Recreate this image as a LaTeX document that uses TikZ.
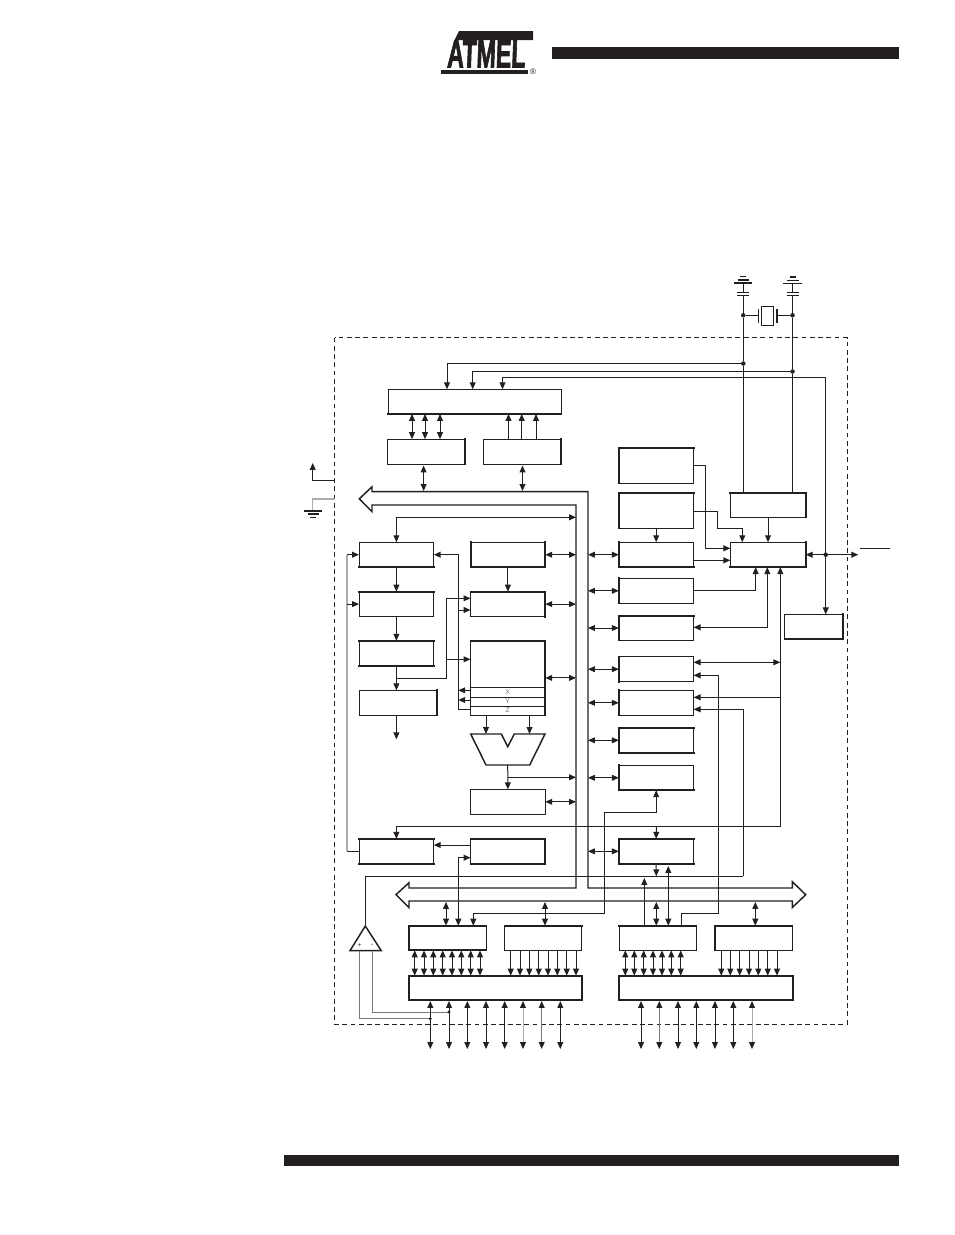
\documentclass[tikz,border=0pt]{standalone}
\usepackage{fontspec}
\setmainfont{Liberation Sans}
\newfontfamily\logofont[FakeBold=2.5]{Liberation Sans Bold}
\usetikzlibrary{arrows.meta}
\definecolor{ink}{HTML}{231F20}
\definecolor{pale}{HTML}{ABABAB}
\definecolor{midgray}{HTML}{777777}
\tikzset{
  >={Triangle[length=5.2pt,width=4.4pt,color=ink]},
  box/.style={draw,inner sep=0pt,outer sep=0pt},
  cell/.style={box,minimum width=56.1pt,minimum height=18.7pt},
  porth/.style={box,minimum width=58pt,minimum height=18.5pt},
  heavy/.style={line width=1.5pt,line cap=rect},
  dot/.style={circle,fill=ink,inner sep=0pt,minimum size=3.4pt},
  reglbl/.style={font=\fontsize{5.2pt}{6pt}\selectfont,inner sep=0pt,text=midgray},
  pin/.style={<->,shorten <=.8pt},
}
\begin{document}
\begin{tikzpicture}[x=.75pt,y=-.75pt,line width=.75pt,color=ink]
\useasboundingbox (0,0) rectangle (954,1235);
% page furniture
\fill (552,47) rectangle (899,59);
\fill (284,1155) rectangle (899,1166);
\fill (459,31) -- (533,31) -- (533,40) -- (454.5,40) -- cycle;
\node[font=\logofont\fontsize{29pt}{29pt}\selectfont,xscale=.6,xslant=.06,inner sep=0pt] (logo) at (486.5,54) {ATMEL};
\fill (441,69.5) rectangle (528,74);
\node[font=\fontsize{6pt}{6pt}\selectfont,inner sep=0pt] (regmark) at (533,71.5) {®};
% chip outline
\draw[dashed,dash pattern=on 3.6pt off 2.6pt] (334.5,337.5) rectangle (847,1024);
% port C
\node[box,minimum width=129.8pt,minimum height=18.5pt] (drvC) at (474.7,401.6) {};
\node[box,minimum width=58pt,minimum height=19pt] (regC) at (426.2,451.8) {};
\node[box,minimum width=58pt,minimum height=19pt] (ddrC) at (522.2,451.8) {};
% left column
\node[cell] (pc) at (396.4,554.7) {};
\node[cell] (flash) at (396.4,604.1) {};
\node[cell] (instr) at (396.4,653.3) {};
\node[box,minimum width=58.3pt,minimum height=18.7pt] (decoder) at (398.2,702.8) {};
\node[cell] (prog) at (396.4,851.3) {};
% register column
\node[cell] (sp) at (507.9,554.7) {};
\node[cell] (sram) at (507.9,604.1) {};
\node[box,minimum width=56.1pt,minimum height=55.8pt] (gpr) at (507.9,677.9) {};
\node[cell] (status) at (507.9,801.8) {};
\node[cell] (spi) at (507.9,851.3) {};
% peripheral column
\node[box,minimum width=56.3pt,minimum height=26.7pt] (wosc) at (656.2,465.5) {};
\node[box,minimum width=56.3pt,minimum height=26.7pt] (wdog) at (656.2,510.5) {};
\node[cell] (mcu) at (656.2,554.7) {};
\node[cell] (tcint) at (656.2,590.8) {};
\node[cell] (tmrA) at (656.2,628) {};
\node[cell] (tmrB) at (656.2,669.2) {};
\node[cell] (tmrC) at (656.2,702.8) {};
\node[cell] (uart) at (656.2,740.3) {};
\node[cell] (eeprom) at (656.2,777.8) {};
\node[cell] (xram) at (656.2,851.3) {};
\node[box,minimum width=56.5pt,minimum height=18.5pt] (timing) at (768,505) {};
\node[box,minimum width=56.5pt,minimum height=18.7pt] (ctrl) at (768,554.7) {};
\node[box,minimum width=44pt,minimum height=18.5pt] (intu) at (814,626.7) {};
% ports at the bottom
\node[porth] (regA) at (447.5,938) {};
\node[porth] (ddrA) at (543.3,938) {};
\node[box,minimum width=129.8pt,minimum height=18.5pt] (drvA) at (495.5,988) {};
\node[porth] (regB) at (657.7,938) {};
\node[porth] (ddrB) at (753.7,938) {};
\node[box,minimum width=130.5pt,minimum height=18.5pt] (drvB) at (705.7,988) {};
% heavier sides
\foreach \n in {drvC,pc,instr,sp,prog,spi,mcu,uart,eeprom,xram,ctrl,intu,regA,drvA,drvB}
  \draw[heavy] (\n.south west) -- (\n.south east);
\foreach \n in {flash,sram,instr,gpr,prog,spi,wosc,wdog,tmrA,uart,xram,timing,regA,ddrA,regB,ddrB,drvA,drvB}
  \draw[heavy] (\n.north west) -- (\n.north east);
\foreach \n in {regC,ddrC,sp,sram,gpr,decoder,spi,timing,ctrl,intu,drvA,drvB}
  \draw[heavy] (\n.north east) -- (\n.south east);
\foreach \n in {sp,wosc,wdog,mcu,tcint,tmrA,tmrB,tmrC,uart,eeprom,xram,regA,ddrB,drvA,drvB}
  \draw[heavy] (\n.north west) -- (\n.south west);
% index registers
\coordinate (xline) at (470.5,687.3);
\coordinate (yline) at (470.5,697.3);
\coordinate (zline) at (470.5,706.3);
\draw (xline) -- (gpr.east |- xline);
\draw (yline) -- (gpr.east |- yline);
\draw (zline) -- (gpr.east |- zline);
\node[reglbl] (xreg) at (507.7,692) {X};
\node[reglbl] (yreg) at (507.7,701.4) {Y};
\node[reglbl] (zreg) at (507.7,710.6) {Z};
% data bus
\coordinate (busl) at (576,505);
\coordinate (busr) at (588,491.7);
\draw[line width=1.1pt,line join=miter] (359.3,498.8) -- (372,486.8) -- (372,491.7) -- (busr) -- (588,888)
  -- (792.3,888) -- (792.3,881.7) -- (805.7,894.7) -- (792.3,907.5) -- (792.3,901) -- (409,901)
  -- (409,907.7) -- (396,894.7) -- (409,882.7) -- (409,888) -- (576,888) -- (busl) -- (372,505)
  -- (372,511.7) -- cycle;
% ALU
\coordinate (aluL) at (486,734);
\coordinate (aluR) at (529.5,734);
\coordinate (aluB) at (507.7,765);
\draw[line width=1.1pt] (470.7,734) -- (501.3,734) -- (507.7,746.7) -- (514.3,734) -- (545,734) -- (529.7,765) -- (486,765) -- cycle;
\draw[->] (aluL |- gpr.south) -- (aluL);
\draw[->] (aluR |- gpr.south) -- (aluR);
\draw[->] (aluB) -- (status.north);
\draw[->] (507.7,777.3) -- (busl |- 0,777.3);
% oscillator pins
\node[dot] (xtalA) at (743.3,315.3) {};
\node[dot] (xtalB) at (792.5,315.3) {};
\node[dot] (jA) at (743.3,363.5) {};
\node[dot] (jB) at (792.5,371.5) {};
\coordinate (capA) at (743.3,292.3);
\coordinate (capB) at (792.5,292.3);
\draw (timing.north -| jA) -- (jA) -- (xtalA) -- (743.3,295.3);
\draw (timing.north -| jB) -- (jB) -- (xtalB) -- (792.5,295.3);
\draw[line width=.6pt] (737,295.3) -- (749,295.3) (737,292.3) -- (749,292.3);
\draw[line width=.6pt] (786.5,295.3) -- (798.5,295.3) (786.5,292.3) -- (798.5,292.3);
\draw (capA) -- (743.3,283) (capB) -- (792.5,283);
\draw[line width=1.4pt] (734,283) -- (752,283);
\draw[line width=1.1pt] (738,280) -- (749,280);
\draw[line width=1.1pt] (740.3,276.7) -- (746.3,276.7);
\draw[line width=.6pt] (783.3,283) -- (801.7,283);
\draw[line width=.6pt] (786.5,280) -- (798.5,280);
\draw[line width=1.2pt] (789.5,276.7) -- (795.5,276.7);
\node[box,minimum width=9.3pt,minimum height=14.2pt] (xtal) at (767.5,315.8) {};
\draw (xtalA) -- (758.7,315.3) (777,315.3) -- (xtalB);
\draw (758.7,309.3) -- (758.7,322.7);
\draw[line width=1.5pt] (777,309.3) -- (777,322.7);
\draw[->] (jA) -| (447,0 |- drvC.north);
\draw[->] (jB) -| (472.7,0 |- drvC.north);
\coordinate (lnC) at (825.7,377.5);
\draw[<->] (502.5,0 |- drvC.north) |- (lnC) -- (lnC |- intu.north);
% port C links
\foreach \x in {412,425,440}
  \draw[<->] (\x,0 |- drvC.south) -- (\x,0 |- regC.north);
\foreach \x in {508.5,521.7,536}
  \draw[->] (\x,0 |- ddrC.north) -- (\x,0 |- drvC.south);
\draw[pin] (regC.south -| 423.6,0) -- (423.6,491);
\draw[pin] (ddrC.south -| 522.5,0) -- (522.5,491);
% control flow, left side
\draw[<->] (pc.north) |- (busl |- 0,517.3);
\draw[->] (pc.south) -- (flash.north);
\draw[->] (flash.south) -- (instr.north);
\draw[->] (instr.south) -- (decoder.north -| instr.south);
\draw[->] (decoder.south -| instr.south) -- (396.4,739.3);
\coordinate (irtap) at (396.4,678.3);
\coordinate (irbus) at (446.7,678.3);
\draw (irtap) -- (irbus);
\draw[->] (irbus) |- (sram.west |- 0,598.3);
\draw[->] (446.7,659.3) -- (gpr.west |- 0,659.3);
\coordinate (zbus) at (458.3,709.3);
\draw (gpr.west |- zbus) -- (zbus);
\draw[->] (zbus) |- (pc.east);
\draw[->] (458.3,610) -- (sram.west |- 0,610);
\draw[->] (gpr.west |- 0,690.3) -- (458.3,690.3);
\draw[->] (gpr.west |- 0,700) -- (458.3,700);
\draw[->] (sp.south) -- (sram.north);
\foreach \n in {sp,sram,gpr,status}
  \draw[<->] (\n.east) -- (\n.east -| busl);
\draw[pale,line width=1.1pt] (347,851.3) -- (347,554.7);
\draw (prog.west) -- (347,851.3);
\draw[->] (347,554.7) -- (pc.west);
\draw[->] (347,604.1) -- (flash.west);
\draw[->] (spi.west |- 0,845) -- (prog.east |- 0,845);
\draw[<->] (458.3,0 |- regA.north) |- (spi.west |- 0,857.7);
% peripherals to the bus
\foreach \n in {mcu,tcint,tmrA,tmrB,tmrC,uart,eeprom,xram}
  \draw[<->] (\n.west -| busr) -- (\n.west);
% peripherals to control
\draw[->] (wdog.south) -- (mcu.north);
\draw[->] (wosc.east) -- (705.3,465.5) |- (ctrl.west |- 0,548.3);
\draw (wdog.east |- 0,511.3) -- (717.3,511.3) -- (717.3,528.3) -- (742.3,528.3);
\draw[->] (742.3,528.3) -- (742.3,0 |- ctrl.north);
\draw[->] (timing.south) -- (ctrl.north);
\draw[->] (mcu.east |- 0,560.3) -- (ctrl.west |- 0,560.3);
\draw[->] (tcint.east) -| (755.7,0 |- ctrl.south);
\draw[<->] (tmrA.east |- 0,627.3) -| (767.3,0 |- ctrl.south);
\coordinate (rstx) at (780.3,826.3);
\draw[<->] (prog.north) |- (rstx) -- (780.3,0 |- ctrl.south);
\draw[->] (656.3,826.3) -- (xram.north);
\draw[<->] (tmrB.east |- 0,662.3) -- (780.3,662.3);
\draw[->] (780.3,697.3) -- (tmrC.east |- 0,697.3);
\draw[->] (681.3,0 |- regB.north) |- (718.3,913.3) |- (tmrB.east |- 0,675.3);
\draw[->] (743.3,876.3) |- (tmrC.east |- 0,709.3);
% reset pin and watchdog
\node[dot] (jC) at (825.7,554.7) {};
\coordinate (rstpin) at (858.3,554.7);
\draw[<->] (ctrl.east) -- (rstpin);
\draw (860,548.3) -- (890,548.3);
% analog comparator
\node[inner sep=0pt,font=\fontsize{5pt}{5pt}\selectfont] (plus) at (359.5,945.2) {+};
\node[inner sep=0pt,font=\fontsize{5pt}{5pt}\selectfont] (minus) at (372.3,945.2) {-};
\coordinate (acoT) at (365.3,926);
\draw[line width=1.1pt] (acoT) -- (381.3,950.7) -- (350,950.7) -- cycle;
\coordinate (ainA) at (430.3,1018.7);
\coordinate (ainB) at (449,1012);
\draw (acoT) |- (743.3,876.3);
\draw[midgray] (359.3,950.7) |- (ainA);
\draw[midgray] (372.3,950.7) |- (ainB);
\node[dot,minimum size=2.4pt] (dotA) at (ainA) {};
\node[dot,minimum size=2.4pt] (dotB) at (ainB) {};
% port A
\draw[<->] (446,902) -- (446,0 |- regA.north);
\draw[<->] (545,902) -- (545,0 |- ddrA.north);
\foreach \x in {414.7,424,433.3,442.7,452,461.3,470.7,480}
  \draw[<->] (\x,0 |- regA.south) -- (\x,0 |- drvA.north);
\foreach \x in {510.7,520,529.3,538.7,548,557.3,566.7,576}
  \draw[->] (\x,0 |- ddrA.south) -- (\x,0 |- drvA.north);
\foreach \x/\c in {430.3/ink,449/ink,467.3/ink,486/ink,504.7/ink,523/pale,541.7/midgray,560.3/ink}
  \draw[<->,color=\c,shorten <=.5pt] (\x,0 |- drvA.south) -- (\x,1049);
\draw[->] (eeprom.south) |- (604.3,812.7) -- (604.3,913.3) -- (473.3,913.3) -- (473.3,0 |- regA.north);
\draw[<-] (eeprom.south) -- (656.2,800);
% port B
\draw[->] (644.3,0 |- regB.north) -- (644.3,878);
\draw[<->] (656.3,902) -- (656.3,0 |- regB.north);
\draw[<->] (668.3,866) -- (668.3,0 |- regB.north);
\draw[->] (xram.south) -- (656.3,876.3);
\draw[<->] (755.3,902) -- (755.3,0 |- ddrB.north);
\foreach \x in {625.3,634.3,643.7,653,662,671.3,680.7}
  \draw[<->] (\x,0 |- regB.south) -- (\x,0 |- drvB.north);
\foreach \x in {721.3,730.3,739.7,749,758.3,767.7,777}
  \draw[->] (\x,0 |- ddrB.south) -- (\x,0 |- drvB.north);
\foreach \x/\c in {641/ink,659.3/midgray,678/ink,696.3/ink,715/ink,733.3/ink,752/pale}
  \draw[<->,color=\c,shorten <=.5pt] (\x,0 |- drvB.south) -- (\x,1049);
% supply pins
\draw[->] (334.5,480.3) -| (312.7,463);
\draw[pale,line width=1pt] (334.5,499) -| (312.7,510.7);
\draw[line width=1.2pt] (304,510.7) -- (322,510.7);
\draw[line width=.9pt] (307.5,514) -- (318.5,514);
\draw[line width=.7pt] (310,517.3) -- (316,517.3);
\end{tikzpicture}
\end{document}
